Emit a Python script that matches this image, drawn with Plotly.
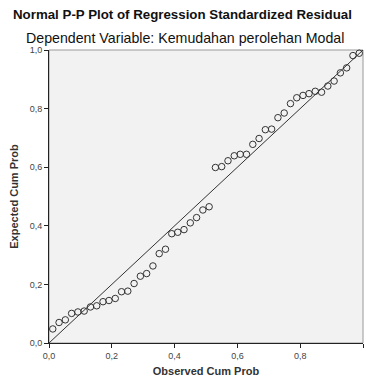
import plotly.graph_objects as go

# Observed cumulative probability
observed_cum_prob = [0.012, 0.032, 0.052, 0.072, 0.092, 0.112, 0.132, 0.152, 0.172, 0.191,
                     0.211, 0.231, 0.251, 0.271, 0.291, 0.311, 0.331, 0.351, 0.371, 0.391,
                     0.410, 0.430, 0.450, 0.470, 0.490, 0.510, 0.530, 0.550, 0.570, 0.590,
                     0.609, 0.629, 0.649, 0.669, 0.689, 0.709, 0.729, 0.749, 0.769, 0.789,
                     0.809, 0.828, 0.848, 0.868, 0.888, 0.908, 0.928, 0.948, 0.968, 0.988]
# Expected cumulative probability
expected_cum_prob = [0.048, 0.070, 0.079, 0.101, 0.106, 0.109, 0.123, 0.127, 0.141, 0.145,
                     0.152, 0.175, 0.177, 0.203, 0.228, 0.237, 0.263, 0.305, 0.320, 0.373,
                     0.378, 0.387, 0.410, 0.428, 0.454, 0.465, 0.599, 0.602, 0.622, 0.639,
                     0.644, 0.644, 0.678, 0.698, 0.728, 0.730, 0.769, 0.785, 0.817, 0.837,
                     0.845, 0.851, 0.859, 0.856, 0.877, 0.894, 0.922, 0.939, 0.981, 0.989]
reference_line = [0.0, 1.0]
tick_values = [0.0, 0.2, 0.4, 0.6, 0.8, 1.0]
tick_labels = ["0,0", "0,2", "0,4", "0,6", "0,8", "1,0"]

title_1 = "Normal P-P Plot of Regression Standardized Residual"
title_2 = "Dependent Variable: Kemudahan perolehan Modal"
x_title = "Observed Cum Prob"
y_title = "Expected Cum Prob"

FONT = "Liberation Sans, Arial, sans-serif"

fig = go.Figure()
fig.add_trace(go.Scatter(x=reference_line, y=reference_line, mode="lines",
                         line=dict(color="#333333", width=1), hoverinfo="skip",
                         showlegend=False))
fig.add_trace(go.Scatter(x=observed_cum_prob, y=expected_cum_prob, mode="markers",
                         marker=dict(symbol="circle-open", size=6.5,
                                     color="#333333", line=dict(width=1, color="#333333")),
                         cliponaxis=False, showlegend=False))

axis_common = dict(range=[0, 1], tickvals=tick_values, ticktext=tick_labels,
                   showgrid=False, zeroline=False, showline=True, linecolor="#222222",
                   linewidth=1, ticks="outside", ticklen=4, tickcolor="#222222",
                   tickfont=dict(family=FONT, size=9, color="#444444"))

fig.update_layout(
    width=366, height=380,
    margin=dict(l=49, r=3, t=50, b=37, autoexpand=False),
    paper_bgcolor="#ffffff", plot_bgcolor="#f2f2f2",
    xaxis=dict(**axis_common,
               title=dict(text=x_title, standoff=7,
                          font=dict(family=FONT, size=11, color="#333333", weight="bold"))),
    yaxis=dict(**axis_common,
               title=dict(text=y_title, standoff=8,
                          font=dict(family=FONT, size=11, color="#333333", weight="bold"))),
    shapes=[dict(type="rect", xref="paper", yref="paper", x0=0, y0=0, x1=1, y1=1,
                 line=dict(color="#9a9a9a", width=1), layer="below")],
    annotations=[
        dict(text="<b>" + title_1 + "</b>", xref="paper", yref="paper", x=0.424, y=1.0,
             xanchor="center", yanchor="middle", yshift=36, showarrow=False,
             font=dict(family=FONT, size=13.3, color="#111111")),
        dict(text=title_2, xref="paper", yref="paper", x=0.433, y=1.0,
             xanchor="center", yanchor="middle", yshift=12, showarrow=False,
             font=dict(family=FONT, size=14.2, color="#111111")),
    ],
)

fig.write_html("out.html", config={"displayModeBar": False},
               post_script="document.body.style.margin='0';document.body.style.overflow='hidden';")
